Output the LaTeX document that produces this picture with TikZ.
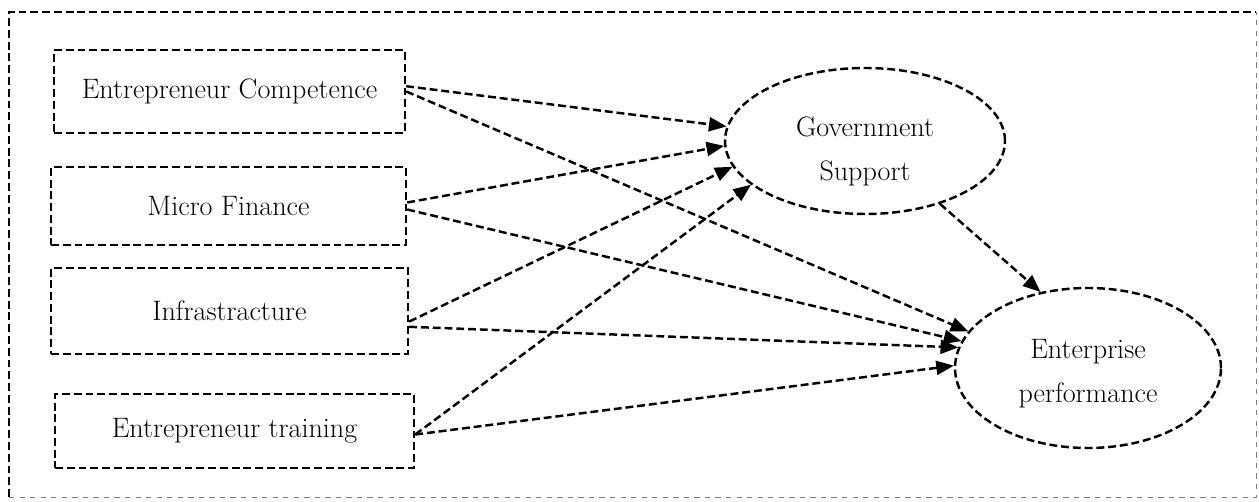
\documentclass[tikz,border=0pt]{standalone}
\usepackage{fontspec}
\usetikzlibrary{arrows.meta,shapes.geometric}

\begin{document}
\begin{tikzpicture}[
  dashline/.style={line width=1.4pt,dash pattern=on 4.5pt off 2.2pt},
  factor/.style={dashline,draw,rectangle,font=\fontsize{16}{19}\selectfont},
  latent/.style={dashline,draw,ellipse,align=center,font=\fontsize{16}{25}\selectfont},
  link/.style={dashline,-{Triangle[length=10pt,width=8pt]}}]
\useasboundingbox (0,0) rectangle (25.18,10.02);
\draw[dashline] (0.18,0.08) -- (0.18,9.78) -- (25.12,9.78);
\draw[gray,dashed,line width=0.5pt] (0.18,0.08) -- (25.12,0.08) -- (25.12,9.78);

\node[factor,minimum width=7.02cm,minimum height=1.66cm] (comp) at (4.59,8.19) {Entrepreneur Competence};
\node[factor,minimum width=7.10cm,minimum height=1.56cm] (fin) at (4.57,5.90) {Micro Finance};
\node[factor,minimum width=7.14cm,minimum height=1.72cm] (infra) at (4.59,3.80) {Infrastracture};
\node[factor,minimum width=7.18cm,minimum height=1.48cm] (train) at (4.69,1.40) {Entrepreneur training};

\node[latent,minimum width=5.6cm,minimum height=2.92cm,text height=48pt] (gov) at (17.30,7.20) {Government\\Support};
\node[latent,minimum width=5.32cm,minimum height=3.2cm,text height=42pt] (perf) at (21.76,2.66) {Enterprise\\performance};

\draw[link] ([yshift=3pt]comp.east) -- (gov.174);
\draw[link] ([yshift=0pt]comp.east) -- (perf.163);
\draw[link] ([yshift=2pt]fin.east) -- (gov.182);
\draw[link] ([yshift=-2pt]fin.east) -- (perf.168);
\draw[link] ([yshift=-6pt]infra.east) -- (gov.191);
\draw[link] ([yshift=-9pt]infra.east) -- (perf.171);
\draw[link] ([yshift=-2pt]train.east) -- (gov.201);
\draw[link] ([yshift=-2pt]train.east) -- (perf.179);
\draw[link] (gov.-40) -- (perf.122);
\end{tikzpicture}
\end{document}
